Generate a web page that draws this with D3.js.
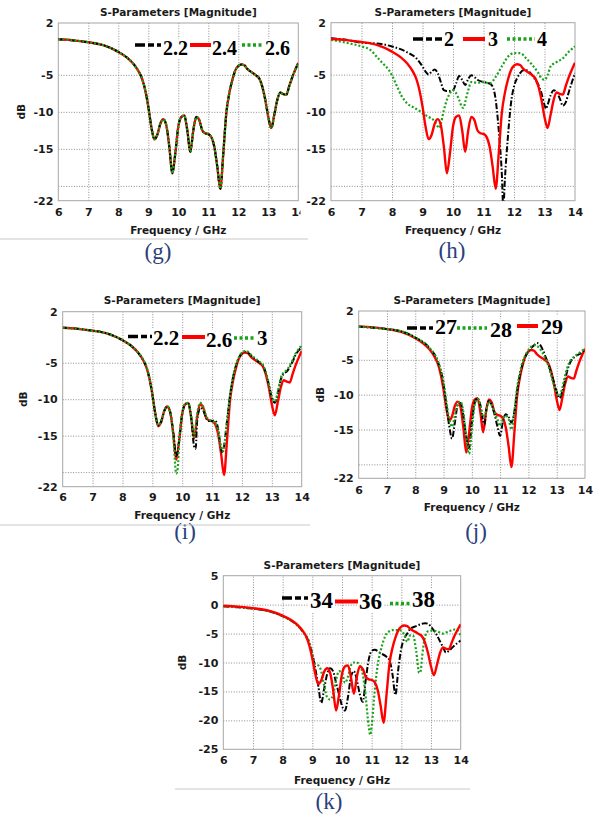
<!DOCTYPE html>
<html><head><meta charset="utf-8">
<script src="https://cdn.jsdelivr.net/npm/d3@7"></script>
<style>body{margin:0;background:#fff}</style>
</head><body>
<svg id="fig" width="602" height="820" xmlns="http://www.w3.org/2000/svg"></svg>
<script>
// ---------------- DATA ----------------
const freqTicks = [6, 7, 8, 9, 10, 11, 12, 13, 14];
const dbTicksA = [2, -5, -10, -15, -22];
const dbGridA = [-5, -10, -15, -20];
const dbTicksK = [5, 0, -5, -10, -15, -20, -25];
const titleText = "S-Parameters [Magnitude]";
const xTitle = "Frequency / GHz";
const yTitle = "dB";

// reference design curve (red in every panel)
const designCurve = [[6.0,-0.2],[6.5,-0.35],[7.0,-0.6],[7.5,-1.0],[8.0,-1.9],[8.3,-2.7],[8.5,-3.5],[8.7,-4.7],[8.8,-5.6],[8.9,-7.1],[9.0,-9.3],[9.1,-12.0],[9.2,-13.7],[9.3,-13.1],[9.4,-11.6],[9.5,-11.0],[9.6,-11.8],[9.7,-14.7],[9.8,-18.3],[9.9,-15.6],[10.0,-12.0],[10.1,-10.7],[10.2,-10.5],[10.3,-12.5],[10.4,-15.4],[10.5,-12.5],[10.6,-10.7],[10.7,-11.1],[10.8,-12.5],[10.9,-12.9],[11.0,-13.0],[11.1,-13.4],[11.2,-14.7],[11.3,-17.4],[11.4,-20.4],[11.5,-15.6],[11.6,-10.2],[11.7,-7.5],[11.8,-5.7],[11.9,-4.4],[12.0,-3.8],[12.1,-3.6],[12.2,-3.7],[12.3,-4.2],[12.5,-4.8],[12.6,-5.1],[12.7,-5.5],[12.8,-6.6],[12.9,-8.4],[13.0,-10.7],[13.1,-12.2],[13.2,-10.4],[13.3,-8.4],[13.4,-7.4],[13.5,-7.6],[13.6,-7.7],[13.7,-6.5],[13.8,-5.3],[13.9,-4.3],[14.0,-3.4]];

// (g)
const gLabels = ["2.2", "2.4", "2.6"];
const g22 = designCurve, g24 = designCurve, g26 = designCurve;

// (h)
const hLabels = ["2", "3", "4"];
const h2 = [[6.0,-0.1],[6.5,-0.3],[7.0,-0.7],[7.5,-0.8],[8.0,-1.2],[8.5,-2.0],[8.8,-2.8],[9.0,-3.9],[9.1,-4.6],[9.2,-5.0],[9.3,-4.6],[9.4,-4.3],[9.5,-4.8],[9.6,-6.0],[9.7,-7.1],[9.8,-7.2],[9.9,-7.2],[10.0,-7.1],[10.1,-6.2],[10.2,-5.2],[10.3,-5.7],[10.4,-6.4],[10.5,-5.6],[10.6,-5.1],[10.7,-5.3],[10.8,-5.7],[11.0,-6.0],[11.2,-6.2],[11.3,-6.6],[11.4,-8.4],[11.5,-12.5],[11.6,-18.3],[11.65,-23.0],[11.7,-19.2],[11.8,-13.4],[11.9,-8.9],[12.0,-6.6],[12.1,-5.5],[12.2,-4.8],[12.3,-4.4],[12.4,-4.4],[12.5,-4.6],[12.6,-5.1],[12.7,-5.7],[12.8,-6.4],[12.9,-7.5],[13.0,-9.1],[13.05,-9.6],[13.1,-9.1],[13.2,-7.8],[13.3,-7.1],[13.4,-7.4],[13.5,-8.2],[13.6,-9.2],[13.7,-8.7],[13.8,-7.3],[13.9,-6.0],[14.0,-4.8]];
const h3 = designCurve;
const h4 = [[6.0,-0.3],[6.5,-0.7],[7.0,-1.2],[7.3,-1.7],[7.5,-2.6],[7.7,-3.5],[7.9,-4.4],[8.0,-5.1],[8.1,-6.0],[8.2,-6.9],[8.3,-7.8],[8.4,-8.4],[8.5,-8.9],[8.7,-9.4],[8.9,-9.9],[9.0,-10.2],[9.2,-10.7],[9.4,-11.3],[9.5,-12.0],[9.55,-12.2],[9.6,-11.6],[9.7,-9.8],[9.8,-8.4],[9.9,-7.5],[10.0,-7.1],[10.1,-7.5],[10.2,-8.4],[10.3,-9.4],[10.35,-9.5],[10.4,-8.7],[10.5,-7.1],[10.6,-6.0],[10.8,-6.1],[11.0,-6.0],[11.2,-6.2],[11.4,-5.3],[11.6,-3.9],[11.8,-2.6],[12.0,-2.1],[12.2,-2.1],[12.4,-2.8],[12.6,-3.7],[12.8,-4.8],[12.9,-5.5],[13.0,-5.7],[13.1,-5.1],[13.2,-3.9],[13.4,-3.3],[13.6,-2.8],[13.8,-1.9],[14.0,-1.2]];

// (i)
const iLabels = ["2.2", "2.6", "3"];
const i22 = [[6.0,-0.2],[6.5,-0.35],[7.0,-0.6],[7.5,-1.0],[8.0,-1.9],[8.3,-2.7],[8.5,-3.5],[8.7,-4.7],[8.8,-5.6],[8.9,-7.1],[9.0,-9.3],[9.1,-12.0],[9.2,-13.6],[9.3,-13.0],[9.4,-11.6],[9.5,-11.0],[9.6,-11.8],[9.7,-14.5],[9.8,-17.8],[9.9,-15.6],[10.0,-12.0],[10.1,-10.7],[10.2,-10.5],[10.3,-12.5],[10.4,-16.5],[10.45,-16.8],[10.5,-13.0],[10.6,-11.2],[10.7,-11.5],[10.8,-12.6],[10.9,-13.0],[11.0,-13.0],[11.1,-12.9],[11.2,-14.0],[11.3,-16.8],[11.35,-17.4],[11.4,-16.5],[11.5,-13.0],[11.6,-9.5],[11.7,-7.0],[11.8,-5.4],[11.9,-4.3],[12.0,-3.7],[12.1,-3.5],[12.2,-3.6],[12.3,-4.0],[12.5,-4.7],[12.6,-5.0],[12.7,-5.4],[12.8,-6.4],[12.9,-8.0],[13.0,-9.8],[13.1,-10.5],[13.2,-9.2],[13.3,-7.3],[13.4,-6.5],[13.5,-6.2],[13.6,-5.6],[13.7,-4.8],[13.8,-3.9],[13.9,-3.3],[14.0,-2.8]];
const i26 = designCurve;
const i3 = [[6.0,-0.2],[6.5,-0.35],[7.0,-0.6],[7.5,-1.0],[8.0,-1.9],[8.3,-2.7],[8.5,-3.5],[8.7,-4.6],[8.8,-5.5],[8.9,-7.0],[9.0,-9.2],[9.1,-12.0],[9.2,-13.6],[9.3,-13.0],[9.4,-11.6],[9.5,-11.0],[9.6,-11.8],[9.7,-15.0],[9.8,-20.2],[9.85,-19.5],[9.9,-15.6],[10.0,-12.0],[10.1,-10.6],[10.2,-10.5],[10.3,-12.3],[10.4,-15.2],[10.5,-12.0],[10.6,-10.5],[10.7,-11.0],[10.8,-12.3],[10.9,-12.8],[11.0,-13.0],[11.1,-13.2],[11.2,-14.2],[11.3,-16.6],[11.35,-17.2],[11.4,-16.4],[11.5,-13.0],[11.6,-9.5],[11.7,-7.0],[11.8,-5.3],[11.9,-4.2],[12.0,-3.6],[12.1,-3.4],[12.2,-3.5],[12.3,-3.9],[12.5,-4.6],[12.6,-4.9],[12.7,-5.3],[12.8,-6.3],[12.9,-7.9],[13.0,-9.6],[13.1,-10.3],[13.2,-9.0],[13.3,-7.1],[13.4,-6.3],[13.5,-6.0],[13.6,-5.4],[13.7,-4.6],[13.8,-3.7],[13.9,-3.1],[14.0,-2.6]];

// (j)
const jLabels = ["27", "28", "29"];
const j27 = [[6.0,-0.25],[7.0,-0.6],[7.5,-0.9],[8.0,-1.8],[8.5,-3.3],[8.8,-5.3],[9.0,-8.5],[9.1,-11.5],[9.2,-14.5],[9.3,-16.3],[9.4,-14.0],[9.5,-11.5],[9.6,-11.2],[9.7,-13.0],[9.8,-16.0],[9.9,-17.7],[10.0,-14.0],[10.1,-11.2],[10.2,-10.5],[10.3,-11.5],[10.4,-13.8],[10.45,-14.3],[10.5,-12.5],[10.6,-10.9],[10.7,-11.5],[10.8,-12.8],[10.9,-14.5],[11.0,-15.9],[11.1,-13.8],[11.2,-12.8],[11.3,-13.2],[11.4,-14.0],[11.5,-12.5],[11.6,-9.5],[11.7,-7.2],[11.8,-5.5],[11.9,-4.5],[12.0,-3.8],[12.1,-3.3],[12.2,-2.9],[12.3,-2.6],[12.4,-2.8],[12.5,-3.5],[12.6,-4.5],[12.7,-5.6],[12.8,-6.8],[12.9,-8.2],[13.0,-9.6],[13.1,-10.5],[13.2,-9.5],[13.3,-7.8],[13.4,-6.2],[13.5,-5.2],[13.6,-4.7],[13.7,-4.4],[13.8,-4.2],[13.9,-3.9],[14.0,-3.5]];
const j28 = [[6.0,-0.25],[7.0,-0.6],[7.5,-0.9],[8.0,-1.8],[8.5,-3.3],[8.8,-5.2],[9.0,-8.2],[9.1,-11.0],[9.2,-13.5],[9.3,-14.6],[9.4,-13.0],[9.5,-11.3],[9.6,-11.0],[9.7,-12.5],[9.8,-16.0],[9.9,-18.5],[10.0,-15.0],[10.1,-11.5],[10.2,-10.6],[10.3,-11.5],[10.4,-13.2],[10.5,-12.5],[10.6,-11.0],[10.7,-11.5],[10.8,-12.5],[10.9,-13.5],[11.0,-14.5],[11.1,-13.5],[11.2,-13.0],[11.3,-13.5],[11.4,-15.0],[11.5,-12.5],[11.6,-9.0],[11.7,-6.8],[11.8,-5.2],[11.9,-4.3],[12.0,-3.6],[12.1,-3.1],[12.2,-2.9],[12.3,-3.0],[12.4,-3.4],[12.5,-4.0],[12.6,-4.8],[12.7,-5.8],[12.8,-7.2],[12.9,-8.6],[13.0,-9.8],[13.1,-10.2],[13.2,-9.0],[13.3,-7.2],[13.4,-5.8],[13.5,-5.0],[13.6,-4.6],[13.7,-4.3],[13.8,-4.0],[13.9,-3.7],[14.0,-3.4]];
const j29 = designCurve;

// (k)
const kLabels = ["34", "36", "38"];
const k34 = [[6.0,-0.3],[6.5,-0.45],[7.0,-0.7],[7.5,-1.1],[8.0,-2.0],[8.3,-2.8],[8.5,-3.6],[8.7,-4.8],[8.8,-5.6],[8.9,-6.7],[9.0,-8.5],[9.1,-11.0],[9.2,-14.0],[9.3,-17.0],[9.4,-14.5],[9.5,-12.0],[9.6,-11.0],[9.7,-11.5],[9.8,-13.5],[9.9,-15.5],[10.0,-17.5],[10.1,-18.3],[10.2,-16.0],[10.3,-12.5],[10.4,-11.5],[10.5,-13.0],[10.6,-15.5],[10.7,-16.8],[10.8,-13.0],[10.9,-9.5],[11.0,-8.0],[11.1,-7.8],[11.3,-8.4],[11.5,-9.0],[11.6,-9.6],[11.7,-12.0],[11.8,-15.6],[11.9,-11.0],[12.0,-7.5],[12.1,-5.8],[12.2,-5.0],[12.3,-4.2],[12.5,-3.7],[12.7,-3.3],[12.8,-3.2],[12.9,-3.3],[13.0,-3.8],[13.1,-4.5],[13.2,-5.3],[13.3,-6.3],[13.4,-7.3],[13.5,-8.3],[13.6,-8.0],[13.8,-7.0],[14.0,-6.2]];
const k36 = designCurve;
const k38 = [[6.0,-0.3],[6.5,-0.45],[7.0,-0.7],[7.5,-1.1],[8.0,-2.0],[8.3,-2.8],[8.5,-3.6],[8.7,-4.8],[8.8,-5.4],[8.9,-6.5],[9.0,-8.5],[9.1,-10.3],[9.2,-10.5],[9.3,-11.5],[9.4,-14.0],[9.5,-16.0],[9.6,-16.4],[9.7,-15.5],[9.8,-13.0],[9.9,-11.5],[10.0,-11.8],[10.1,-13.5],[10.2,-12.5],[10.3,-10.5],[10.4,-10.0],[10.5,-10.0],[10.6,-10.5],[10.7,-12.0],[10.8,-16.0],[10.9,-21.0],[10.95,-22.5],[11.0,-21.0],[11.1,-15.0],[11.2,-10.5],[11.3,-8.0],[11.4,-6.2],[11.5,-5.0],[11.6,-4.6],[11.7,-4.4],[11.8,-4.4],[11.9,-4.4],[12.0,-4.5],[12.1,-5.2],[12.2,-6.4],[12.3,-5.3],[12.4,-5.4],[12.5,-8.0],[12.6,-11.8],[12.65,-11.5],[12.7,-9.0],[12.8,-5.5],[12.9,-4.6],[13.0,-4.5],[13.2,-4.6],[13.4,-5.0],[13.6,-4.6],[13.8,-4.3],[13.9,-4.5],[14.0,-5.4]];

// ---------------- STYLES ----------------
const STY = {
  black: {stroke: "#000000", w: 2, dash: "6,2,1.5,2", lw: 3.5, ldash: "10,3,6,3"},
  red:   {stroke: "#ff0000", w: 2.4, dash: null, lw: 4, ldash: null},
  green: {stroke: "#1aa31a", w: 2.2, dash: "2,2", lw: 3.5, ldash: "3,2.5"}
};

// ---------------- LAYOUT ----------------
const panels = [
  { x0: 58.3, x1: 298.3, y0: 23, y1: 200.7, yDom: [-22, 2], yTicks: dbTicksA, yGrid: dbGridA,
    clip: [0, 0, 300.5, 270], titleY: 15.5, tickY: 217.5, xTitleY: 234, dbX: 20.7, showDb: true,
    cap: "(g)", capX: 158, capY: 259, sep: [0, 308, 239],
    series: [[g24, "red"], [g22, "black"], [g26, "green"]],
    legend: { fs: 20, items: [
      [gLabels[0], "black", 135, 161, 45, 163, 55],
      [gLabels[1], "red", 190, 211, 45, 212, 55],
      [gLabels[2], "green", 242, 263, 45, 265, 55]] } },
  { x0: 331, x1: 575, y0: 22.7, y1: 200.7, yDom: [-22, 2], yTicks: dbTicksA, yGrid: dbGridA,
    clip: [303.5, 0, 300, 270], titleY: 15.5, tickY: 217.5, xTitleY: 234, dbX: 0, showDb: false,
    cap: "(h)", capX: 452, capY: 257.5, sep: null,
    series: [[h2, "black"], [h4, "green"], [h3, "red"]],
    legend: { fs: 20, items: [
      [hLabels[0], "black", 413, 442, 39, 444, 46],
      [hLabels[1], "red", 463, 485, 39, 488, 46],
      [hLabels[2], "green", 507, 535, 39, 537, 46]] } },
  { x0: 62.7, x1: 301.7, y0: 311.7, y1: 486.7, yDom: [-22, 2], yTicks: dbTicksA, yGrid: dbGridA,
    clip: null, titleY: 304, tickY: 502, xTitleY: 519, dbX: 22.7, showDb: true,
    cap: "(i)", capX: 185, capY: 539, sep: [0, 310, 525],
    series: [[i26, "red"], [i22, "black"], [i3, "green"]],
    legend: { fs: 21, items: [
      [iLabels[0], "black", 128, 152, 336.5, 153, 345],
      [iLabels[1], "red", 182, 205, 337, 206, 347],
      [iLabels[2], "green", 234, 256, 338, 257, 345]] } },
  { x0: 358.7, x1: 585, y0: 311, y1: 478.3, yDom: [-22, 2], yTicks: dbTicksA, yGrid: dbGridA,
    clip: null, titleY: 304, tickY: 495.5, xTitleY: 511, dbX: 320, showDb: true,
    cap: "(j)", capX: 476, capY: 539, sep: null,
    series: [[j29, "red"], [j27, "black"], [j28, "green"]],
    legend: { fs: 22, items: [
      [jLabels[0], "black", 407, 433, 328, 435, 333.5],
      [jLabels[1], "green", 457, 487, 328, 490, 337],
      [jLabels[2], "red", 517, 538, 326, 541, 333.5]] } },
  { x0: 223.3, x1: 460.7, y0: 575.7, y1: 749.3, yDom: [-25, 5], yTicks: dbTicksK, yGrid: dbTicksK.slice(1, -1),
    clip: null, titleY: 569, tickY: 765.5, xTitleY: 784, dbX: 181.7, showDb: true,
    cap: "(k)", capX: 329, capY: 809, sep: [175, 470, 789],
    series: [[k34, "black"], [k38, "green"], [k36, "red"]],
    legend: { fs: 23, items: [
      [kLabels[0], "black", 282, 308, 598, 310, 608],
      [kLabels[1], "red", 335, 358, 601.5, 359, 609],
      [kLabels[2], "green", 390, 411, 603.5, 412, 607]] } }
];

const svg = d3.select("#fig");
svg.append("rect").attr("width", 602).attr("height", 820).attr("fill", "#fff");
const defs = svg.append("defs");
const SANS = "'DejaVu Sans', Verdana, sans-serif";
const SERIF = "'Liberation Serif', 'Times New Roman', serif";

panels.forEach((p, idx) => {
  let root = svg.append("g");
  if (p.clip) {
    defs.append("clipPath").attr("id", "pc" + idx).append("rect")
      .attr("x", p.clip[0]).attr("y", p.clip[1]).attr("width", p.clip[2]).attr("height", p.clip[3]);
    root.attr("clip-path", `url(#pc${idx})`);
  }
  const x = d3.scaleLinear().domain([6, 14]).range([p.x0, p.x1]);
  const y = d3.scaleLinear().domain(p.yDom).range([p.y1, p.y0]);
  const W = p.x1 - p.x0, H = p.y1 - p.y0;

  // grid
  const gx = root.append("g").attr("transform", `translate(0,${p.y1})`)
    .call(d3.axisBottom(x).tickValues(freqTicks.slice(1, -1)).tickSize(-H).tickFormat(""));
  const gy = root.append("g").attr("transform", `translate(${p.x0},0)`)
    .call(d3.axisLeft(y).tickValues(p.yGrid).tickSize(-W).tickFormat(""));
  [gx, gy].forEach(g => {
    g.select(".domain").remove();
    g.selectAll("line").attr("stroke", "#8c8c8c").attr("stroke-width", 1).attr("stroke-dasharray", "1,1.6");
  });

  // frame
  root.append("rect").attr("x", p.x0).attr("y", p.y0).attr("width", W).attr("height", H)
    .attr("fill", "none").attr("stroke", "#a6a6a6").attr("stroke-width", 1);

  // curves
  const clipId = "plot" + idx;
  defs.append("clipPath").attr("id", clipId).append("rect")
    .attr("x", p.x0).attr("y", p.y0).attr("width", W).attr("height", H);
  const line = d3.line().x(d => x(d[0])).y(d => y(d[1])).curve(d3.curveMonotoneX);
  const cg = root.append("g").attr("clip-path", `url(#${clipId})`);
  p.series.forEach(([data, key]) => {
    const s = STY[key];
    cg.append("path").datum(data).attr("d", line).attr("fill", "none")
      .attr("stroke", s.stroke).attr("stroke-width", s.w)
      .attr("stroke-dasharray", s.dash).attr("stroke-linejoin", "round");
  });

  // tick labels via axes
  const ax = root.append("g").attr("transform", `translate(0,${p.tickY - 9})`)
    .call(d3.axisBottom(x).tickValues(freqTicks).tickSize(0).tickPadding(0).tickFormat(d3.format("d")));
  const ay = root.append("g").attr("transform", `translate(${p.x0 - 5},0)`)
    .call(d3.axisLeft(y).tickValues(p.yTicks).tickSize(0).tickPadding(0).tickFormat(d => d < 0 ? "-" + Math.abs(d) : String(d)));
  [ax, ay].forEach(g => {
    g.select(".domain").remove();
    g.selectAll("text").attr("font-family", SANS).attr("font-weight", "bold")
      .attr("font-size", 11).attr("fill", "#1a1a1a");
  });
  ax.selectAll("text").attr("dy", "0.71em");

  // titles
  root.append("text").attr("x", (p.x0 + p.x1) / 2).attr("y", p.titleY).attr("text-anchor", "middle")
    .attr("font-family", SANS).attr("font-weight", "bold").attr("font-size", 10.5).attr("fill", "#1a1a1a").text(titleText);
  root.append("text").attr("x", (p.x0 + p.x1) / 2).attr("y", p.xTitleY).attr("text-anchor", "middle")
    .attr("font-family", SANS).attr("font-weight", "bold").attr("font-size", 10.5).attr("fill", "#1a1a1a").text(xTitle);
  if (p.showDb) {
    root.append("text").attr("transform", `translate(${p.dbX + 4},${(p.y0 + p.y1) / 2}) rotate(-90)`)
      .attr("text-anchor", "middle").attr("font-family", SANS).attr("font-weight", "bold")
      .attr("font-size", 10.5).attr("fill", "#1a1a1a").text(yTitle);
  }

  // legend
  const lg = root.append("g");
  p.legend.items.forEach(([label, key, lx1, lx2, ly, tx, ty]) => {
    const s = STY[key];
    const t = lg.append("text").attr("x", tx).attr("y", ty).attr("font-family", SERIF)
      .attr("font-weight", "bold").attr("font-size", p.legend.fs).attr("fill", "#000").text(label);
    const bb = t.node().getBBox();
    lg.insert("rect", "text").attr("x", bb.x - 1).attr("y", bb.y + 2).attr("width", bb.width + 2)
      .attr("height", bb.height - 3).attr("fill", "#fff");
    lg.append("line").attr("x1", lx1).attr("x2", lx2).attr("y1", ly).attr("y2", ly)
      .attr("stroke", s.stroke).attr("stroke-width", s.lw).attr("stroke-dasharray", s.ldash);
  });

  // caption
  svg.append("text").attr("x", p.capX).attr("y", p.capY).attr("text-anchor", "middle")
    .attr("font-family", SERIF).attr("font-size", 23).attr("fill", "#2b3f7a").text(p.cap);
  if (p.sep) {
    svg.append("line").attr("x1", p.sep[0]).attr("x2", p.sep[1]).attr("y1", p.sep[2]).attr("y2", p.sep[2])
      .attr("stroke", "#c8c8c8").attr("stroke-width", 1);
  }
});
</script>
</body></html>
